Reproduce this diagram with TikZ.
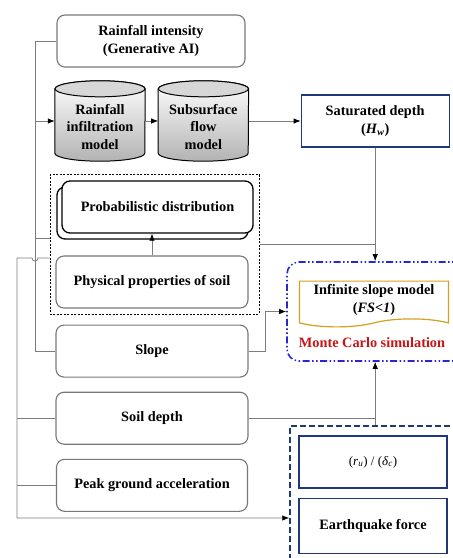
\documentclass[tikz,border=0pt]{standalone}
\usepackage{fontspec}
\setmainfont{Liberation Serif}
\usetikzlibrary{arrows.meta,positioning,shapes.symbols,shadows,fit,calc,backgrounds}
\definecolor{boxgray}{RGB}{120,120,120}
\definecolor{linegray}{RGB}{125,125,125}
\definecolor{darkblue}{RGB}{31,56,120}
\definecolor{mcblue}{RGB}{40,40,210}
\definecolor{tapegold}{RGB}{212,160,30}
\definecolor{mcred}{RGB}{200,20,20}
\definecolor{cyltop}{RGB}{215,215,215}
% cylinder drawn behind a named node
\newcommand{\drawcyl}[1]{%
  \begin{scope}[on background layer]
    \path[draw=black,line width=1pt,top color=white,bottom color=gray!60]
      ($(#1.north west)+(0pt,-8pt)$) -- ($(#1.south west)+(0pt,8pt)$)
      arc[start angle=180,end angle=360,x radius=45pt,y radius=8pt]
      -- ($(#1.north east)+(0pt,-8pt)$)
      arc[start angle=0,end angle=180,x radius=45pt,y radius=8pt] -- cycle;
    \path[draw=black,line width=1pt,fill=cyltop]
      ($(#1.north)+(0pt,-8pt)$) ellipse[x radius=45pt,y radius=8pt];
  \end{scope}}

\begin{document}
\begin{tikzpicture}[
  x=1pt,y=-1pt,
  font=\bfseries\fontsize{14.3}{18}\selectfont,
  gbox/.style={draw=boxgray,line width=1.1pt,rounded corners=8pt,align=center,minimum width=192pt,minimum height=52pt,fill=white},
  pbox/.style={draw=black,line width=1.3pt,rounded corners=8pt,align=center,minimum width=191pt,minimum height=52pt,fill=white,copy shadow={shadow xshift=-5pt,shadow yshift=-6pt}},
  cyl/.style={inner sep=0pt,minimum width=90pt,minimum height=80pt},
  cyltext/.style={align=center,yshift=-6pt,font=\bfseries\fontsize{14.3}{17.5}\selectfont},
  bbox/.style={draw=darkblue,line width=1.2pt,align=center,minimum width=148pt,minimum height=52pt,fill=white},
  tapebox/.style={tape,tape bend top=none,tape bend height=8pt,draw=tapegold,line width=1.2pt,align=center,minimum width=149pt,minimum height=44pt,fill=white},
  mcbox/.style={draw=mcblue,line width=1.6pt,rounded corners=12pt,dash pattern=on 7pt off 2.5pt on 1.5pt off 2.5pt on 1.5pt off 2.5pt},
  eqbox/.style={draw=darkblue,line width=1.5pt,dash pattern=on 6pt off 3pt},
  grpbox/.style={draw=black,line width=0.8pt,dash pattern=on 2pt off 1.5pt,inner sep=5.5pt},
  arr/.style={-{Latex[length=7pt,width=5.5pt,color=black]},draw=linegray,line width=0.8pt},
  ln/.style={draw=linegray,line width=0.8pt}
]
\useasboundingbox (0,0) rectangle (453,558);
% rainfall branch
\node[gbox,minimum width=188pt] (rain) at (151,41) {Rainfall intensity\\(Generative AI)};
\node[cyl,label={[cyltext]center:Rainfall\\infiltration\\model}] (infil) at (100,121) {};
\node[cyl,right=13pt of infil,label={[cyltext]center:Subsurface\\flow\\model}] (subsurf) {};
\drawcyl{infil}
\drawcyl{subsurf}
\node[bbox,right=52pt of subsurf] (sat) {Saturated depth\\(\textit{H}\textsubscript{\textit{w}})};
% soil properties
\node[pbox] (prob) at (157.5,207) {Probabilistic distribution};
\node[gbox] (phys) at (152,282) {Physical properties of soil};
\node[grpbox,fit=(prob)(phys)] (soilgrp) {};
\node[gbox,below=16pt of phys] (slope) {Slope};
\node[gbox,below=14pt of slope] (soil) {Soil depth};
\node[gbox,minimum width=191pt,below=14pt of soil] (pga) {Peak ground acceleration};
% slope model
\node[mcbox,minimum width=188pt,minimum height=99pt] (mc) at (381,311.5) {};
\node[tapebox] (fs) at (374,300) {Infinite slope model\\(\textit{FS<1})};
\node[text=mcred] (mctext) at (372,343) {Monte Carlo simulation};
% earthquake
\node[eqbox,minimum width=185pt,minimum height=150pt] (eqgrp) at (382.5,501) {};
\node[bbox,font=\fontsize{13}{15}\selectfont] (ru) at (373,462) {(\textit{r}\textsubscript{\textit{u}}) / (\textit{δ}\textsubscript{\textit{c}})};
\node[bbox,minimum height=55pt,below=9pt of ru] (eqf) {Earthquake force};

\coordinate (lbus) at (35,0);
\coordinate (rbus) at (17,0);
% left buses
\draw[ln] (rain.west) -| (lbus |- slope.west) -- (slope.west);
\draw[arr] (infil.west -| lbus) -- (infil.west);
\draw[ln] (lbus |- 0,238) -- (soilgrp.west |- 0,238);
\draw[arr] (soilgrp.west |- 0,258) -- (38,258) arc[start angle=0,end angle=-180,radius=3pt]
  -- (rbus |- 0,258) -- (rbus |- 0,518) -- (eqgrp.west |- 0,518);
\draw[ln] (soil.west) -- (soil.west -| rbus);
\draw[ln] (pga.west) -- (pga.west -| rbus);
% right side
\draw[arr] (infil.east) -- (subsurf.west);
\draw[arr] (subsurf.east) -- (sat.west);
\draw[arr] (sat.south) -- (sat.south |- mc.north);
\draw[ln] (soilgrp.east |- 0,244) -- (sat.south |- 0,244);
\draw[arr] (phys.north) -- (phys.north |- prob.south);
\draw[arr] (slope.east) -- ++(17,0) |- (mc.west);
\draw[ln] (soil.east) -- (soil.east -| sat.south);
\draw[arr] (eqgrp.north -| sat.south) -- (mc.south -| sat.south);
\end{tikzpicture}
\end{document}
